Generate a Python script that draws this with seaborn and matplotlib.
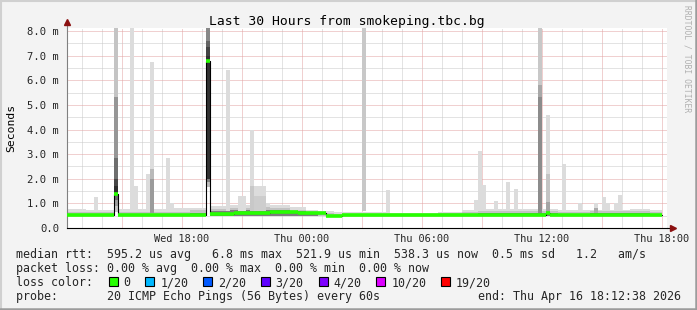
import matplotlib
matplotlib.use("Agg")
import matplotlib.pyplot as plt
from matplotlib.patches import Rectangle
from matplotlib.lines import Line2D
import numpy as np
import seaborn as sns

# ---------------- data (time = hours since Wed 00:00, values in ms) ----------------
# median rtt, piecewise (segment start hour, value)
med_start = [12.215, 14.615, 14.815, 19.215, 19.415, 20.615, 22.415, 23.815, 25.215, 26.015, 36.215, 36.415]
med_val   = [0.53,   1.40,   0.53,   6.80,   0.58,   0.62,   0.65,   0.60,   0.50,   0.53,   0.60,   0.53]
med_end = 42.015

# background smoke band, piecewise (segment start hour, outer / inner / core upper values)
base_start = [12.215, 13.215, 14.615, 14.815, 16.015, 17.415, 18.415, 19.215, 19.415, 20.415,
              21.415, 22.415, 23.415, 24.215, 24.815, 25.615, 28.415, 30.815, 32.015, 32.815,
              34.815, 36.815, 38.415, 40.415, 41.415]
base_light = [0.78, 0.74, 0, 0.78, 0.76, 0.80, 0.82, 0, 0.90, 0.95,
              1.00, 0.92, 0.84, 0.75, 0.68, 0.64, 0.60, 0.66, 0.72, 0.78,
              0.76, 0.72, 0.75, 0.76, 0.74]
base_mid = [0.64, 0.63, 0, 0.66, 0.64, 0.66, 0.72, 0, 0.78, 0.82,
            0.85, 0.82, 0.75, 0.68, 0.60, 0.58, 0.56, 0.60, 0.64, 0.70,
            0.68, 0.64, 0.68, 0.70, 0.66]
base_dark = [0, 0, 0, 0, 0, 0, 0.62, 0, 0.70, 0.72,
             0.75, 0.72, 0.68, 0.62, 0, 0, 0, 0, 0.58, 0.62,
             0.60, 0, 0.60, 0.62, 0]
base_lo = 0.48
base_end = 42.015

# smoke spikes: bin start hour, lower value, upper value, grey level
spike_h = [14.615, 14.615, 14.615, 14.615, 14.615, 14.615, 14.615, 14.615,
           15.415, 16.415, 16.415, 16.415,
           19.215, 19.215, 19.215, 19.215, 19.215, 19.215,
           27.015, 35.815, 35.815, 35.815, 36.215, 36.215, 36.215,
           21.415, 21.415, 21.615, 21.615, 21.815, 21.815, 22.015, 22.015,
           38.615, 38.615,
           13.615, 15.615, 16.215, 17.215, 17.415, 20.215, 20.815, 21.015, 28.215,
           32.615, 32.815, 33.015, 33.615, 34.215, 34.615, 37.015, 37.815,
           39.015, 39.215, 39.615, 39.815]
spike_lo = [0.66, 0.90, 1.15, 1.40, 1.70, 2.00, 2.85, 5.30,
            0.70, 0.60, 2.00, 2.40,
            1.67, 1.85, 2.00, 7.00, 7.36, 7.60,
            0.70, 0.60, 5.30, 5.80, 0.60, 1.07, 2.20,
            0.70, 1.70, 0.70, 1.30, 0.70, 1.30, 0.70, 1.30,
            0.60, 0.80,
            0.70, 0.70, 0.70, 0.70, 0.70, 0.70, 0.70, 0.70, 0.60,
            0.70, 0.70, 0.70, 0.70, 0.70, 0.70, 0.70, 0.70,
            0.70, 0.70, 0.70, 0.70]
spike_hi = [0.90, 1.15, 1.40, 1.70, 2.00, 2.85, 5.30, 8.30,
            8.30, 2.00, 2.40, 6.75,
            1.85, 2.00, 7.00, 7.36, 7.60, 8.30,
            8.30, 5.30, 5.80, 8.30, 1.07, 2.20, 4.57,
            1.70, 4.00, 1.30, 1.70, 1.30, 1.70, 1.30, 1.70,
            0.80, 1.03,
            1.27, 1.70, 2.20, 2.86, 1.00, 6.40, 1.30, 1.30, 1.55,
            1.14, 3.13, 1.75, 1.10, 1.87, 1.60, 2.60, 1.03,
            1.27, 1.00, 1.00, 1.34]
spike_gray = [200, 160, 110, 45, 70, 110, 150, 196,
              220, 155, 185, 220,
              190, 130, 50, 68, 100, 136,
              200, 140, 168, 200, 165, 196, 220,
              200, 220, 205, 220, 205, 220, 205, 220,
              170, 220,
              220, 220, 220, 220, 220, 220, 220, 220, 220,
              220, 220, 220, 220, 220, 220, 220, 220,
              220, 220, 220, 220]
spike_width = 0.2

# axis ticks / labels
xlabel_hours = [18, 24, 30, 36, 42]
xlabel_text = ["Wed 18:00", "Thu 00:00", "Thu 06:00", "Thu 12:00", "Thu 18:00"]
ytick_vals = [0, 1, 2, 3, 4, 5, 6, 7, 8]
ytick_text = ["0.0", "1.0 m", "2.0 m", "3.0 m", "4.0 m", "5.0 m", "6.0 m", "7.0 m", "8.0 m"]

# legend
loss_labels = ["0", "1/20", "2/20", "3/20", "4/20", "10/20", "19/20"]
loss_colors = ["#26ff00", "#00b8ff", "#0059ff", "#5e00ff", "#7e00ff", "#dd00ff", "#ff0000"]
line_rtt = "median rtt:  595.2 us avg   6.8 ms max  521.9 us min  538.3 us now  0.5 ms sd   1.2   am/s"
line_loss = "packet loss: 0.00 % avg  0.00 % max  0.00 % min  0.00 % now"
line_probe = "probe:       20 ICMP Echo Pings (56 Bytes) every 60s"
line_end = "end: Thu Apr 16 18:12:38 2026"
title = "Last 30 Hours from smokeping.tbc.bg"

# ---------------- drawing ----------------
W, H = 697, 310
sns.set_style("white")
plt.rcParams["font.family"] = ["DejaVu Sans Mono", "DejaVu Sans"]

fig = plt.figure(figsize=(W / 100, H / 100), dpi=100)
fig.patch.set_facecolor("#f3f3f3")


def fx(px):
    return px / W


def fy(py):
    return 1 - py / H


ax = fig.add_axes([fx(67), fy(228), 600 / W, 200 / H])
ax.set_facecolor("white")
ax.set_xlim(12.265, 42.265)
ax.set_ylim(0, 8.122)

LIGHT, MID, DARK = "#dcdcdc", "#c2c2c2", "#7c7c7c"
GRID_MIN, GRID_MAJ = "#c8c8c8", "#e3a2a2"

# grid
for h in range(13, 43):
    ax.axvline(h, color=GRID_MAJ if h % 3 == 0 else GRID_MIN, lw=0.72,
               ls=(0, (1, 1)), zorder=0.5)
for v in np.arange(0.5, 8.1, 0.5):
    ax.axhline(v, color=GRID_MAJ if abs(v - round(v)) < 1e-6 else GRID_MIN, lw=0.72,
               ls=(0, (1, 1)), zorder=0.5)

# base smoke
bs = np.array(base_start)
be = np.append(bs[1:], base_end)
for vals, col in [(base_light, LIGHT), (base_mid, MID), (base_dark, DARK)]:
    v = np.array(vals)
    m = v > 0
    ax.bar(bs[m], v[m] - base_lo, bottom=base_lo, width=(be - bs)[m], align="edge",
           color=col, linewidth=0, antialiased=False, zorder=1)

# spikes
sh = np.array(spike_h)
slo = np.array(spike_lo)
shi = np.array(spike_hi)
cols = ["#{0:02x}{0:02x}{0:02x}".format(g) for g in spike_gray]
ax.bar(sh, shi - slo, bottom=slo, width=spike_width, align="edge", color=cols,
       linewidth=0, antialiased=False, zorder=2)

# median: thin black step line + loss-coloured segments
mx = med_start + [med_end]
my = med_val + [med_val[-1]]
sns.lineplot(x=mx, y=my, drawstyle="steps-post", color="black", lw=0.8, ax=ax,
             estimator=None, sort=False, zorder=3)
med_ends = med_start[1:] + [med_end]
ax.hlines(med_val, med_start, med_ends, color=loss_colors[0], lw=2.6, zorder=4,
          capstyle="butt")

# axes styling
for s in ["top", "right"]:
    ax.spines[s].set_visible(False)
ax.spines["left"].set_color("#808080")
ax.spines["left"].set_linewidth(0.8)
ax.spines["bottom"].set_color("black")
ax.spines["bottom"].set_linewidth(0.8)
ax.spines["bottom"].set_zorder(5)

ax.set_xticks(xlabel_hours)
ax.set_xticklabels(xlabel_text, fontsize=7.4)
ax.set_xticks(list(range(13, 43)), minor=True)
ax.set_yticks(ytick_vals)
ax.set_yticklabels(ytick_text, fontsize=7.6)
ax.tick_params(axis="x", which="both", length=2, width=0.7, color="#999999", pad=2.5,
               direction="out")
ax.tick_params(axis="y", which="both", length=2, width=0.7, color="#999999", pad=3.5,
               direction="out")
ax.set_xlabel("")
ax.set_ylabel("")

# axis arrows
ax.add_line(Line2D([1.0, 1.007], [0, 0], transform=ax.transAxes, color="black",
                   lw=0.8, clip_on=False))
ax.plot([1.010], [0], marker=">", ms=4.5, color="#8b1010", transform=ax.transAxes,
        clip_on=False)
ax.add_line(Line2D([0, 0], [1.0, 1.02], transform=ax.transAxes, color="#808080",
                   lw=0.8, clip_on=False))
ax.plot([0], [1.028], marker="^", ms=4.5, color="#8b1010", transform=ax.transAxes,
        clip_on=False)

# titles and labels
fig.text(fx(347), fy(25), title, ha="center", va="baseline", fontsize=9.4, color="black")
fig.text(fx(11), fy(128), "Seconds", rotation=90, ha="center", va="center",
         fontsize=8.2, color="black")
fig.text(fx(687), fy(5), "RRDTOOL / TOBI OETIKER", rotation=270, ha="center", va="top",
         fontsize=5.8, color="#b0b0b0")

# legend lines
LEG_FS = 8.4
fig.text(fx(16), fy(258), line_rtt, ha="left", va="baseline", fontsize=LEG_FS)
fig.text(fx(16), fy(272), line_loss, ha="left", va="baseline", fontsize=LEG_FS)
fig.text(fx(16), fy(286), "loss color:", ha="left", va="baseline", fontsize=LEG_FS)
fig.text(fx(16), fy(300), line_probe, ha="left", va="baseline", fontsize=LEG_FS)
fig.text(fx(681), fy(300), line_end, ha="right", va="baseline", fontsize=LEG_FS)

sq_x = 108.5
for lab, col in zip(loss_labels, loss_colors):
    fig.patches.append(Rectangle((fx(sq_x), fy(286)), 9 / W, 9 / H, transform=fig.transFigure,
                                 facecolor=col, edgecolor="black", lw=0.8, figure=fig))
    fig.text(fx(sq_x + 15), fy(286), lab, ha="left", va="baseline", fontsize=LEG_FS)
    sq_x += (len(lab) + 4.25) * 7.0

# image frame
fig.add_artist(Line2D([0, 1], [fy(0.5), fy(0.5)], transform=fig.transFigure, color="#d0d0d0", lw=1.5))
fig.add_artist(Line2D([fx(0.5), fx(0.5)], [0, 1], transform=fig.transFigure, color="#d0d0d0", lw=1.5))
fig.add_artist(Line2D([0, 1], [fy(H - 1), fy(H - 1)], transform=fig.transFigure, color="#9c9c9c", lw=1.8))
fig.add_artist(Line2D([fx(W - 1), fx(W - 1)], [0, 1], transform=fig.transFigure, color="#9c9c9c", lw=1.8))

fig.savefig("out.png", dpi=100, facecolor=fig.get_facecolor())
